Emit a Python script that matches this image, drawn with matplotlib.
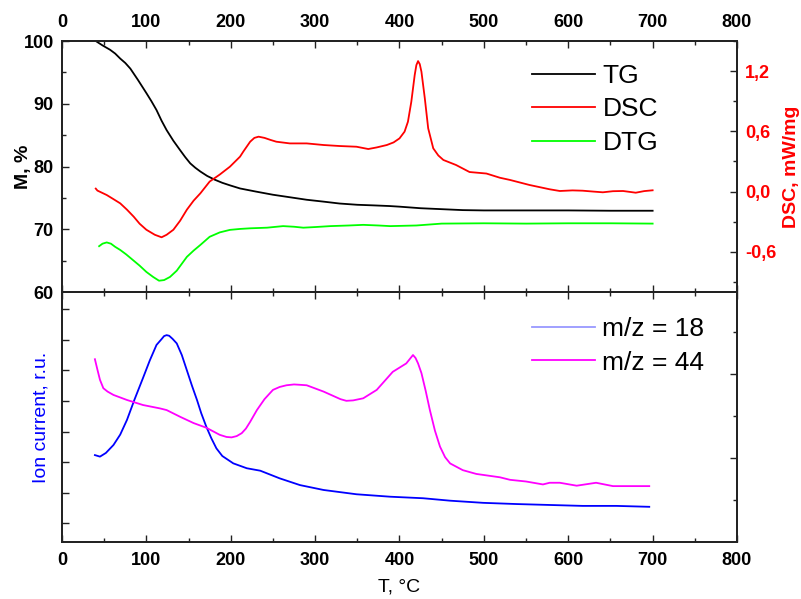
import matplotlib
matplotlib.use('Agg')
import matplotlib.pyplot as plt
from matplotlib.lines import Line2D
from matplotlib.ticker import MultipleLocator, FixedLocator, NullFormatter, FuncFormatter

plt.rcParams['font.family'] = ['Liberation Sans', 'DejaVu Sans']

# TG, mass %
tg_t = [40, 48, 57, 63, 69, 75, 81, 90, 100, 106, 112, 118, 124, 132, 140, 146, 152,
        158, 164, 172, 181, 190, 199, 211, 230, 250, 270, 290, 310, 329, 350, 370, 388,
        400, 425, 450, 475, 500, 550, 600, 650, 700]
tg_m = [100.0, 99.3, 98.6, 98.0, 97.2, 96.5, 95.6, 93.8, 91.7, 90.4, 89.0, 87.3, 85.8,
        84.1, 82.6, 81.5, 80.5, 79.8, 79.2, 78.5, 77.9, 77.4, 77.0, 76.5, 76.0, 75.5,
        75.1, 74.7, 74.4, 74.1, 73.9, 73.8, 73.7, 73.6, 73.35, 73.2, 73.05, 73.0,
        73.0, 73.0, 72.95, 72.95]

# DTG (shown on the mass scale)
dtg_t = [44, 48, 53, 58, 63, 69, 76, 84, 92, 100, 108, 115, 121, 128, 136, 142, 148,
         156, 164, 175, 187, 199, 211, 223, 243, 262, 275, 286, 300, 318, 340, 357,
         375, 389, 420, 450, 500, 550, 600, 650, 700]
dtg_v = [67.3, 67.7, 67.9, 67.7, 67.2, 66.7, 66.0, 65.1, 64.2, 63.2, 62.4, 61.8, 61.9,
         62.4, 63.4, 64.5, 65.6, 66.6, 67.5, 68.8, 69.5, 69.9, 70.05, 70.15, 70.25,
         70.5, 70.4, 70.25, 70.35, 70.5, 70.6, 70.7, 70.6, 70.5, 70.6, 70.9, 70.95,
         70.9, 70.95, 70.95, 70.9]

# DSC, mW/mg
dsc_t = [40, 42, 47, 53, 60, 69, 77, 85, 92, 100, 110, 118, 124, 132, 140, 148, 156,
         164, 175, 187, 199, 211, 215, 223, 228, 233, 240, 247, 254, 270, 290, 310,
         329, 349, 363, 373, 385, 393, 400, 406, 410, 414, 418, 420, 422, 424, 426,
         430, 434, 440, 446, 452, 467, 483, 503, 519, 531, 554, 578, 590, 605, 617,
         630, 641, 653, 665, 680, 690, 700]
dsc_v = [0.03, 0.01, -0.01, -0.034, -0.07, -0.117, -0.18, -0.25, -0.32, -0.38, -0.43,
         -0.455, -0.43, -0.38, -0.29, -0.18, -0.09, -0.017, 0.10, 0.17, 0.248, 0.348,
         0.40, 0.497, 0.535, 0.547, 0.535, 0.515, 0.497, 0.48, 0.48, 0.464, 0.454,
         0.447, 0.424, 0.44, 0.464, 0.49, 0.53, 0.597, 0.696, 0.895, 1.16, 1.26, 1.30,
         1.27, 1.194, 0.929, 0.63, 0.431, 0.36, 0.315, 0.265, 0.195, 0.18, 0.138, 0.116,
         0.066, 0.023, 0.006, 0.012, 0.009, 0.0, -0.007, 0.004, 0.006, -0.011, 0.005,
         0.013]

# ion currents, relative units
ms18_t = [39, 45, 52, 61, 69, 77, 86, 96, 104, 112, 118, 121, 124, 127, 131, 136, 142,
          148, 154, 160, 165, 171, 177, 183, 190, 203, 219, 235, 258, 282, 310, 349,
          389, 428, 460, 499, 539, 578, 617, 657, 696]
ms18_v = [3.23, 3.18, 3.3, 3.56, 3.9, 4.38, 5.05, 5.75, 6.32, 6.83, 7.02, 7.12, 7.15,
          7.13, 7.03, 6.88, 6.5, 6.0, 5.5, 5.03, 4.6, 4.16, 3.78, 3.45, 3.2, 2.96, 2.80,
          2.72, 2.47, 2.25, 2.09, 1.95, 1.87, 1.82, 1.74, 1.67, 1.63, 1.60, 1.57, 1.57,
          1.54]

ms44_t = [39, 42, 45, 49, 54, 61, 77, 96, 116, 124, 140, 156, 171, 187, 195, 201, 207,
          213, 218, 223, 231, 240, 250, 258, 266, 275, 283, 290, 310, 330, 337, 345,
          357, 373, 392, 408, 412, 416, 419, 422, 426, 431, 436, 442, 448, 454, 460,
          475, 491, 519, 531, 550, 570, 578, 590, 610, 633, 653, 696]
ms44_v = [4.35, 4.1, 3.86, 3.66, 3.58, 3.5, 3.38, 3.26, 3.18, 3.14, 2.98, 2.83, 2.72,
          2.55, 2.5, 2.49, 2.52, 2.59, 2.7, 2.86, 3.14, 3.4, 3.62, 3.69, 3.73, 3.75, 3.74,
          3.73, 3.58, 3.4, 3.36, 3.37, 3.42, 3.62, 4.05, 4.25, 4.35, 4.45, 4.38, 4.25,
          4.02, 3.6, 3.14, 2.65, 2.27, 2.02, 1.87, 1.71, 1.62, 1.54, 1.48, 1.44, 1.37,
          1.41, 1.41, 1.34, 1.41, 1.33, 1.33]

W, H = 801, 599
fig = plt.figure(figsize=(W / 100, H / 100), dpi=100)
ax_top = fig.add_axes([62 / W, 1 - 292 / H, 675 / W, 251 / H])
ax_bot = fig.add_axes([62 / W, 1 - 542 / H, 675 / W, 250 / H])
ax_dsc = ax_top.twinx()
ax_44 = ax_bot.twinx()

lw = 1.3
ax_top.plot(tg_t, tg_m, color='black', lw=lw)
ax_top.plot(dtg_t, dtg_v, color='#00ff00', lw=lw)
ax_dsc.plot(dsc_t, dsc_v, color='#ff0000', lw=lw)
ax_bot.plot(ms18_t, ms18_v, color='#0000ff', lw=lw)
ax_44.plot(ms44_t, ms44_v, color='#ff00ff', lw=lw)

for ax in (ax_top, ax_bot, ax_dsc, ax_44):
    ax.set_xlim(0, 800)
    for s in ax.spines.values():
        s.set_linewidth(1.3)
        s.set_color('#222222')
    ax.tick_params(which='both', direction='in', width=1.0, color='#222222')
    ax.tick_params(which='major', length=5)
    ax.tick_params(which='minor', length=3)

bold = {'fontweight': 'bold', 'fontsize': 13}

# upper panel
ax_top.set_ylim(60, 100)
ax_top.yaxis.set_major_locator(MultipleLocator(10))
ax_top.yaxis.set_minor_locator(MultipleLocator(5))
ax_top.xaxis.set_major_locator(MultipleLocator(100))
ax_top.xaxis.set_minor_locator(MultipleLocator(50))
ax_top.tick_params(axis='x', which='both', top=True, bottom=True,
                   labeltop=True, labelbottom=False, pad=7)
ax_top.tick_params(axis='y', pad=6)
for lab in ax_top.get_xticklabels() + ax_top.get_yticklabels():
    lab.set(**bold)
ax_top.set_ylabel('M, %', fontsize=14, fontweight='bold')
ax_top.yaxis.set_label_coords(-0.045, 0.5)

ax_dsc.set_ylim(-1.0, 1.5)
ax_dsc.yaxis.set_major_locator(MultipleLocator(0.6))
ax_dsc.yaxis.set_minor_locator(MultipleLocator(0.3))
ax_dsc.yaxis.set_major_formatter(FuncFormatter(lambda v, p: f'{v:.1f}'.replace('.', ',')))
ax_dsc.tick_params(axis='y', labelcolor='#ff0000', pad=6)
for lab in ax_dsc.get_yticklabels():
    lab.set(**bold)
ax_dsc.set_ylabel('DSC, mW/mg', fontsize=14, fontweight='bold', color='#ff0000')
ax_dsc.yaxis.set_label_coords(1.068, 0.5)

top_handles = [Line2D([], [], color='black', lw=lw),
               Line2D([], [], color='#ff0000', lw=lw),
               Line2D([], [], color='#00ff00', lw=lw)]
fig.legend(top_handles, ['TG', 'DSC', 'DTG'], loc='upper left',
           bbox_to_anchor=(532 / W, 1 - 64 / H), frameon=False, fontsize=19,
           handlelength=2.4, handletextpad=0.27, labelspacing=0.36,
           borderpad=0, borderaxespad=0)

# lower panel
ax_bot.set_ylim(0.39, 8.56)
ax_bot.yaxis.set_major_locator(FixedLocator([1, 2, 3, 4, 5, 6, 7, 8]))
ax_bot.yaxis.set_major_formatter(NullFormatter())
ax_bot.xaxis.set_major_locator(MultipleLocator(100))
ax_bot.xaxis.set_minor_locator(MultipleLocator(50))
ax_bot.tick_params(axis='x', which='both', top=True, bottom=True, pad=7)
for lab in ax_bot.get_xticklabels():
    lab.set(**bold)
ax_bot.set_ylabel('Ion current, r.u.', fontsize=14, color='#0000ff')
ax_bot.yaxis.set_label_coords(-0.019, 0.5)
ax_bot.set_xlabel('T, °C', fontsize=14)
ax_bot.xaxis.set_label_coords(0.5, -0.148)

ax_44.set_ylim(0, 5.95)
ax_44.yaxis.set_major_locator(FixedLocator([2, 4]))
ax_44.yaxis.set_minor_locator(FixedLocator([1, 3, 5]))
ax_44.yaxis.set_major_formatter(NullFormatter())

bot_handles = [Line2D([], [], color='#9999ff', lw=lw),
               Line2D([], [], color='#ff00ff', lw=lw)]
fig.legend(bot_handles, ['m/z = 18', 'm/z = 44'], loc='upper left',
           bbox_to_anchor=(532 / W, 1 - 317 / H), frameon=False, fontsize=19,
           handlelength=2.4, handletextpad=0.27, labelspacing=0.36,
           borderpad=0, borderaxespad=0)

fig.savefig('out.png', dpi=100)
